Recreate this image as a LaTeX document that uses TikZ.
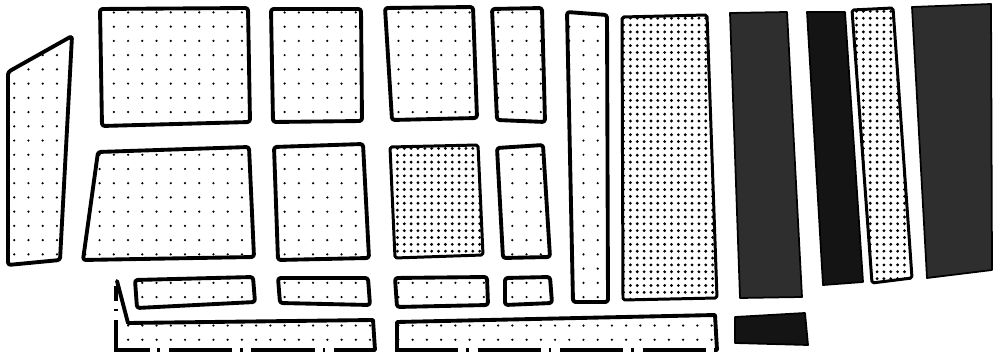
\documentclass[tikz,border=0pt]{standalone}
\usetikzlibrary{patterns.meta}

\begin{document}
\begin{tikzpicture}[
  x=0.02cm, y=-0.02cm,
  block/.style={draw, line width=2.2pt, line join=round, rounded corners=1.5pt, pattern={Dots[distance=8.1pt, radius=0.7pt]}},
  dense/.style={draw, line width=1.7pt, line join=round, rounded corners=1pt, pattern={Dots[distance=3.9pt, radius=0.9pt]}},
  dark/.style={draw, line width=1pt, line join=round, fill=black!82},
  darker/.style={dark, fill=black!92},
  wall/.style={line width=2.2pt, line join=round, line cap=round},
  lotline/.style={line width=1.9pt, dash pattern=on 36pt off 4.5pt on 1.5pt off 5pt}
]
\useasboundingbox (0,0) rectangle (993,354);

% left wedge
\draw[block] (8,72) -- (72,36) -- (60,260) -- (8,265) -- cycle;

% upper row of blocks
\draw[block] (100,9) -- (248,8) -- (250,122) -- (102,126) -- cycle;
\draw[block] (271,9) -- (361,9) -- (362,121) -- (273,122) -- cycle;
\draw[block] (385,8) -- (473,7) -- (477,118) -- (392,120) -- cycle;
\draw[block] (492,9) -- (542,8) -- (545,122) -- (497,120) -- cycle;

% middle row of blocks
\draw[block] (98,152) -- (249,147) -- (254,257) -- (83,260) -- cycle;
\draw[block] (274,147) -- (363,144) -- (369,258) -- (278,260) -- cycle;
\draw[dense] (390,147) -- (478,145) -- (483,255) -- (395,258) -- cycle;
\draw[block] (497,148) -- (543,145) -- (550,257) -- (503,258) -- cycle;

% long strips
\draw[block] (567,12) -- (607,15) -- (608,302) -- (573,302) -- cycle;
\draw[dense] (622,17) -- (707,15) -- (717,298) -- (623,300) -- cycle;
\draw[dark] (730,13) -- (787,12) -- (802,297) -- (740,298) -- cycle;
\draw[darker] (807,12) -- (845,12) -- (863,282) -- (823,285) -- cycle;
\draw[dense] (852,10) -- (893,8) -- (912,278) -- (872,283) -- cycle;
\draw[dark] (912,7) -- (991,4) -- (992,270) -- (927,278) -- cycle;

% small blocks along the bottom
\draw[block] (135,280) -- (253,277) -- (255,302) -- (137,308) -- cycle;
\draw[block] (278,278) -- (368,278) -- (370,305) -- (280,303) -- cycle;
\draw[block] (395,278) -- (487,277) -- (488,305) -- (397,307) -- cycle;
\draw[block] (505,278) -- (550,277) -- (552,303) -- (505,305) -- cycle;
\draw[darker] (735,317) -- (805,313) -- (808,345) -- (735,343) -- cycle;

% bottom lots, open towards the lot line
\path[pattern={Dots[distance=8.1pt, radius=0.7pt]}] (120,325) -- (373,320) -- (375,350) -- (120,350) -- cycle;
\draw[wall] (117,281) -- (128,323) -- (373,320) -- (375,350);
\path[pattern={Dots[distance=8.1pt, radius=0.7pt]}] (397,322) -- (715,315) -- (717,350) -- (397,350) -- cycle;
\draw[wall] (397,350) -- (397,322) -- (715,315) -- (717,350);

% lot line
\draw[lotline, dash phase=27.5pt] (116,286) -- (116,350) -- (375,350);
\draw[lotline] (395,350) -- (718,350);

\end{tikzpicture}
\end{document}
